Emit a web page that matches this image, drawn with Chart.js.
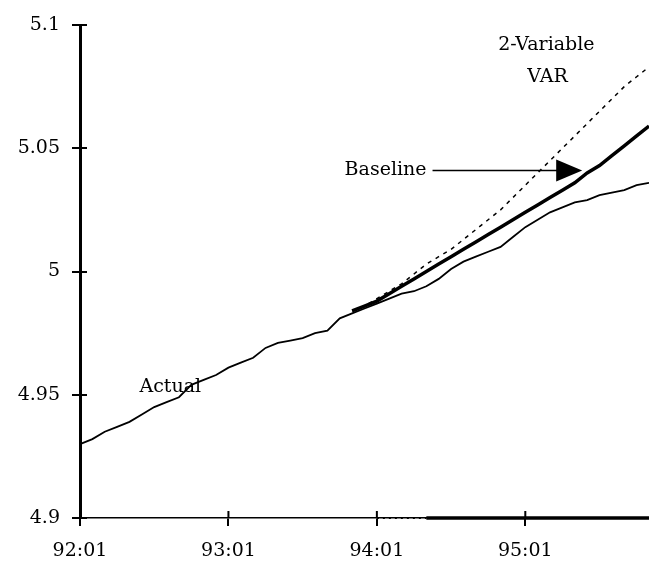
<!DOCTYPE html>
<html>
<head>
<meta charset="utf-8">
<script src="https://cdn.jsdelivr.net/npm/chart.js@4"></script>
<style>
  html, body { margin: 0; padding: 0; background: #fff; }
  #wrap { width: 649px; height: 568px; }
</style>
</head>
<body>
<div id="wrap"><canvas id="grafico"></canvas></div>
<script>
// meses 92:01 .. 95:11
const meses = [];
for (let a = 92; a <= 95; a++) {
  for (let m = 1; m <= 12; m++) {
    meses.push(a + ':' + String(m).padStart(2, '0'));
  }
}
meses.length = 47;

const actual = [
  4.930, 4.932, 4.935, 4.937, 4.939, 4.942, 4.945, 4.947, 4.949, 4.954,
  4.956, 4.958, 4.961, 4.963, 4.965, 4.969, 4.971, 4.972, 4.973, 4.975,
  4.976, 4.981, 4.983, 4.985, 4.987, 4.989, 4.991, 4.992, 4.994, 4.997,
  5.001, 5.004, 5.006, 5.008, 5.010, 5.014, 5.018, 5.021, 5.024, 5.026,
  5.028, 5.029, 5.031, 5.032, 5.033, 5.035, 5.036
];

const baseline = [
  null, null, null, null, null, null, null, null, null, null,
  null, null, null, null, null, null, null, null, null, null,
  null, null, 4.984, 4.986, 4.988, 4.991, 4.994, 4.997, 5.000, 5.003,
  5.006, 5.009, 5.012, 5.015, 5.018, 5.021, 5.024, 5.027, 5.030, 5.033,
  5.036, 5.040, 5.043, 5.047, 5.051, 5.055, 5.059
];

const var2 = [
  null, null, null, null, null, null, null, null, null, null,
  null, null, null, null, null, null, null, null, null, null,
  null, null, 4.984, 4.986, 4.989, 4.992, 4.995, 4.999, 5.003, 5.006,
  5.009, 5.013, 5.017, 5.021, 5.025, 5.030, 5.035, 5.040, 5.045, 5.050,
  5.055, 5.060, 5.065, 5.070, 5.075, 5.079, 5.083
];

// tramo grueso sobre el eje x (periodo de pronostico)
const periodo = meses.map((m, i) => (i >= 24 ? 4.9 : null));
const inicioGrueso = 28;

const yTicks = [4.9, 4.95, 5, 5.05, 5.1];

// textos: [texto, indice x, valor y]
const textos = [
  ['Actual', 7.3, 4.953],
  ['2-Variable', 37.7, 5.092],
  ['VAR', 37.8, 5.079]
];
// flecha "Baseline": [inicio x, fin x, valor y]
const flecha = [28.5, 40.6, 5.041];

const fuente = '"DejaVu Serif", "Liberation Serif", serif';

const anotaciones = {
  id: 'anotaciones',
  afterDatasetsDraw(chart) {
    const { ctx, scales: { x, y } } = chart;
    ctx.save();
    ctx.fillStyle = '#000';
    ctx.strokeStyle = '#000';

    // marcas de eje hacia dentro (cruzan el eje)
    ctx.lineWidth = 2;
    ctx.beginPath();
    y.ticks.forEach(t => {
      const py = Math.round(y.getPixelForValue(t.value));
      ctx.moveTo(x.left, py);
      ctx.lineTo(x.left + 7, py);
    });
    x.ticks.forEach((t, i) => {
      if (i % 12 !== 0) return;
      const px = x.getPixelForValue(i);
      ctx.moveTo(px, y.bottom);
      ctx.lineTo(px, y.bottom - 7);
    });
    ctx.stroke();

    ctx.font = '19px ' + fuente;
    ctx.textAlign = 'center';
    ctx.textBaseline = 'middle';
    textos.forEach(t => ctx.fillText(t[0], x.getPixelForValue(t[1]), y.getPixelForValue(t[2])));

    const x0 = x.getPixelForValue(flecha[0]);
    const x1 = x.getPixelForValue(flecha[1]);
    const yy = y.getPixelForValue(flecha[2]);
    ctx.textAlign = 'right';
    ctx.fillText('Baseline', x0 - 6, yy);
    ctx.lineWidth = 1.5;
    ctx.beginPath();
    ctx.moveTo(x0, yy);
    ctx.lineTo(x1 - 20, yy);
    ctx.stroke();
    ctx.beginPath();
    ctx.moveTo(x1, yy);
    ctx.lineTo(x1 - 26, yy - 11);
    ctx.lineTo(x1 - 26, yy + 11);
    ctx.closePath();
    ctx.fill();
    ctx.restore();
  }
};

new Chart(document.getElementById('grafico'), {
  type: 'line',
  data: {
    labels: meses,
    datasets: [
      { label: 'Actual', data: actual, borderColor: '#000', borderWidth: 1.8, pointRadius: 0, tension: 0 },
      { label: 'Baseline', data: baseline, borderColor: '#000', borderWidth: 3.5, pointRadius: 0, tension: 0 },
      { label: '2-Variable VAR', data: var2, borderColor: '#000', borderWidth: 1.5, borderDash: [4, 5], pointRadius: 0, tension: 0 },
      {
        label: 'periodo', data: periodo, borderColor: '#000', borderWidth: 3.5, pointRadius: 0, tension: 0, clip: false,
        segment: {
          borderDash: c => (c.p0DataIndex < inicioGrueso ? [2, 4] : undefined),
          borderWidth: c => (c.p0DataIndex < inicioGrueso ? 2 : 3.5)
        }
      }
    ]
  },
  options: {
    responsive: true,
    maintainAspectRatio: false,
    animation: false,
    layout: { autoPadding: false, padding: { top: 25, right: 0, left: 0, bottom: 0 } },
    plugins: {
      legend: { display: false },
      tooltip: { enabled: false }
    },
    scales: {
      x: {
        type: 'category',
        offset: false,
        afterFit: s => { s.height = 50; s.paddingRight = 0; s.paddingLeft = 0; },
        border: { display: true, color: '#000', width: 1.5 },
        grid: {
          drawOnChartArea: false,
          drawTicks: true,
          tickLength: 8,
          color: c => (c.index % 12 === 0 ? '#000' : 'rgba(0,0,0,0)'),
          lineWidth: 2
        },
        ticks: {
          autoSkip: false,
          maxRotation: 0,
          color: '#000',
          padding: 14,
          font: { family: fuente, size: 19 },
          callback: (v, i) => (i % 12 === 0 ? meses[i] : '')
        }
      },
      y: {
        min: 4.9,
        max: 5.1,
        afterFit: s => { s.width = 80; s.paddingTop = 0; s.paddingBottom = 0; },
        afterBuildTicks: s => { s.ticks = yTicks.map(v => ({ value: v })); },
        border: { display: true, color: '#000', width: 3 },
        grid: {
          drawOnChartArea: false,
          drawTicks: true,
          tickLength: 8,
          color: '#000',
          lineWidth: 2
        },
        ticks: {
          color: '#000',
          padding: 12,
          font: { family: fuente, size: 19 },
          callback: v => String(v)
        }
      }
    }
  },
  plugins: [anotaciones]
});
</script>
</body>
</html>
